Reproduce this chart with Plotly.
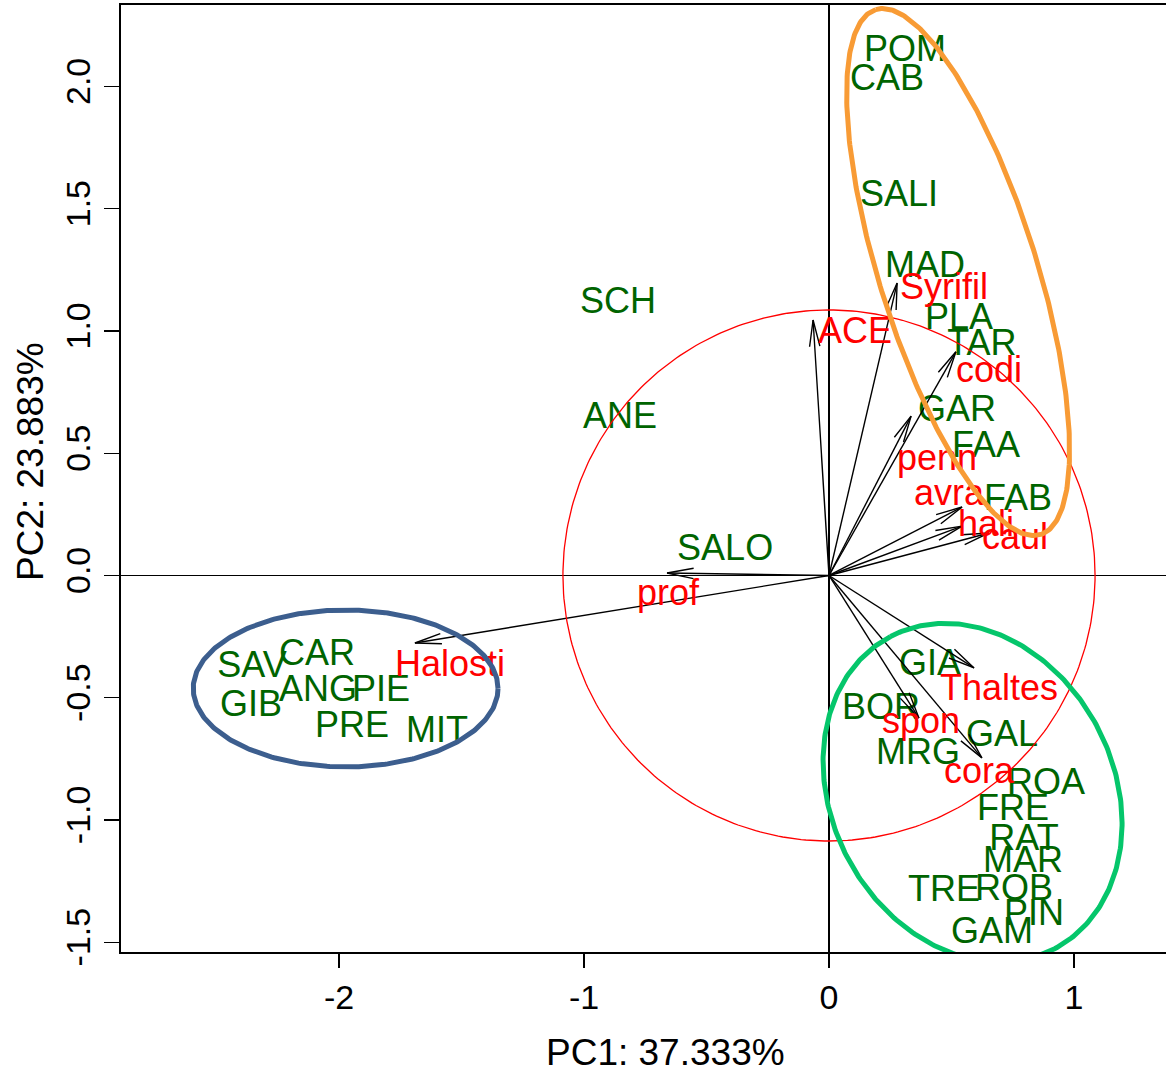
import numpy as np
import plotly.graph_objects as go

# ---------------- data ----------------
site_names = ["POM", "CAB", "SALI", "MAD", "PLA", "TAR", "GAR", "FAA", "FAB",
              "SCH", "ANE", "SALO",
              "SAV", "CAR", "ANG", "PIE", "GIB", "PRE", "MIT",
              "GIA", "BOR", "MRG", "GAL", "ROA", "FRE", "RAT", "MAR", "TRE",
              "ROB", "PIN", "GAM"]
site_pc1 = [0.310, 0.237, 0.286, 0.392, 0.531, 0.624, 0.522, 0.641, 0.771,
            -0.861, -0.853, -0.424,
            -2.355, -2.090, -2.086, -1.829, -2.359, -1.947, -1.600,
            0.412, 0.212, 0.363, 0.706, 0.886, 0.751, 0.796, 0.792, 0.469,
            0.755, 0.837, 0.665]
site_pc2 = [2.157, 2.039, 1.564, 1.274, 1.061, 0.955, 0.685, 0.538, 0.321,
            1.127, 0.656, 0.117,
            -0.362, -0.313, -0.460, -0.460, -0.521, -0.607, -0.628,
            -0.354, -0.534, -0.718, -0.644, -0.840, -0.947, -1.070, -1.160, -1.278,
            -1.274, -1.376, -1.450]

var_names = ["ACE", "Syrifil", "codi", "penn", "avra", "hali", "caul",
             "prof", "Halosti", "Thaltes", "spon", "cora"]
var_pc1 = [-0.065, 0.278, 0.518, 0.335, 0.543, 0.543, 0.653,
           -0.661, -1.690, 0.592, 0.367, 0.624]
var_pc2 = [1.045, 1.196, 0.915, 0.652, 0.280, 0.202, 0.174,
           0.010, -0.276, -0.378, -0.583, -0.746]
var_label_pc1 = [0.106, 0.469, 0.653, 0.441, 0.490, 0.641, 0.759,
                 -0.657, -1.547, 0.694, 0.376, 0.612]
var_label_pc2 = [1.004, 1.184, 0.845, 0.485, 0.342, 0.215, 0.162,
                 -0.067, -0.358, -0.456, -0.591, -0.796]

x_tick_vals = [-2, -1, 0, 1]
x_tick_text = ["-2", "-1", "0", "1"]
y_tick_vals = [-1.5, -1.0, -0.5, 0.0, 0.5, 1.0, 1.5, 2.0]
y_tick_text = ["-1.5", "-1.0", "-0.5", "0.0", "0.5", "1.0", "1.5", "2.0"]

x_title = "PC1: 37.333%"
y_title = "PC2: 23.883%"

circle_radius = 1.086

# group ellipses: centre x, centre y, semi-major, semi-minor, angle (deg), colour
ellipses = [
    (0.527, 1.241, 1.125, 0.321, 107.4, "#F89B35"),
    (-1.973, -0.462, 0.622, 0.321, 0.0, "#3C5E8E"),
    (0.586, -0.888, 0.721, 0.576, 117.7, "#05C66B"),
]

# ---------------- layout geometry ----------------
W, H = 1166, 1074
ML, MR, MT, MB = 121, 0, 5, 122
x_range = [-2.8898, 1.3755]
y_range = [-1.5399, 2.3333]
sx = (W - ML - MR) / (x_range[1] - x_range[0])
sy = (H - MT - MB) / (y_range[1] - y_range[0])

FONT = "Liberation Sans, Arial, Helvetica, sans-serif"
GREEN = "#006400"
RED = "#FF0000"
TEXT_DY = 4.0 / sy  # plotly centres text slightly above cap-height centre

fig = go.Figure()

# site labels
fig.add_trace(go.Scatter(
    x=site_pc1, y=[v - TEXT_DY for v in site_pc2], text=site_names, mode="text",
    textposition="middle center",
    textfont=dict(family=FONT, size=36, color=GREEN),
    hoverinfo="skip", showlegend=False))

# arrows (open V heads as in R)
head_len = 27.0
head_ang = np.deg2rad(11)
ax_x, ax_y = [], []
for tx, ty in zip(var_pc1, var_pc2):
    px, py = tx * sx, ty * sy
    L = np.hypot(px, py)
    ux, uy = -px / L, -py / L
    barbs = []
    for s in (1, -1):
        c, sn = np.cos(s * head_ang), np.sin(s * head_ang)
        bx = ux * c - uy * sn
        by = ux * sn + uy * c
        barbs.append(((px + head_len * bx) / sx, (py + head_len * by) / sy))
    ax_x += [0, tx, None, barbs[0][0], tx, barbs[1][0], None]
    ax_y += [0, ty, None, barbs[0][1], ty, barbs[1][1], None]
fig.add_trace(go.Scatter(x=ax_x, y=ax_y, mode="lines",
                         line=dict(color="black", width=1.4),
                         hoverinfo="skip", showlegend=False))

# variable labels
fig.add_trace(go.Scatter(
    x=var_label_pc1, y=[v - TEXT_DY for v in var_label_pc2], text=var_names, mode="text",
    textposition="middle center",
    textfont=dict(family=FONT, size=36, color=RED),
    hoverinfo="skip", showlegend=False))

# correlation circle
t = np.linspace(0, 2 * np.pi, 361)
fig.add_trace(go.Scatter(x=circle_radius * np.cos(t), y=circle_radius * np.sin(t),
                         mode="lines", line=dict(color=RED, width=1.3),
                         hoverinfo="skip", showlegend=False))

# group ellipses
for cx, cy, a, b, ang, col in ellipses:
    phi = np.deg2rad(ang)
    ex = cx + a * np.cos(t) * np.cos(phi) - b * np.sin(t) * np.sin(phi)
    ey = cy + a * np.cos(t) * np.sin(phi) + b * np.sin(t) * np.cos(phi)
    fig.add_trace(go.Scatter(x=ex, y=ey, mode="lines",
                             line=dict(color=col, width=5),
                             hoverinfo="skip", showlegend=False))

axis_common = dict(showgrid=False, zeroline=True, zerolinecolor="black",
                   zerolinewidth=1.3, showline=True, linecolor="black",
                   linewidth=2, ticks="outside", tickcolor="black",
                   tickwidth=1.3, tickfont=dict(family=FONT, size=34, color="black"))

fig.update_layout(
    width=W, height=H,
    margin=dict(l=ML, r=MR, t=MT, b=MB),
    paper_bgcolor="white", plot_bgcolor="white",
    xaxis=dict(range=x_range, tickvals=x_tick_vals, ticktext=x_tick_text,
               ticklen=14, mirror=True, **axis_common),
    yaxis=dict(range=y_range, tickvals=y_tick_vals, ticktext=y_tick_text,
               ticklen=15, tickangle=-90, **axis_common),
    annotations=[
        dict(text=x_title, xref="paper", yref="paper", x=(665 - ML) / (W - ML - MR),
             y=0, xanchor="center", yanchor="middle", yshift=-(1052 - (H - MB)),
             showarrow=False, font=dict(family=FONT, size=37, color="black")),
        dict(text=y_title, xref="paper", yref="paper", x=0, y=(H - MB - 462) / (H - MT - MB),
             xanchor="center", yanchor="middle", xshift=30 - ML, textangle=-90,
             showarrow=False, font=dict(family=FONT, size=37, color="black")),
    ],
)

fig.write_html(
    "out.html",
    config={"displayModeBar": False, "staticPlot": True},
    post_script="document.body.style.margin='0';document.body.style.overflow='hidden';",
)
